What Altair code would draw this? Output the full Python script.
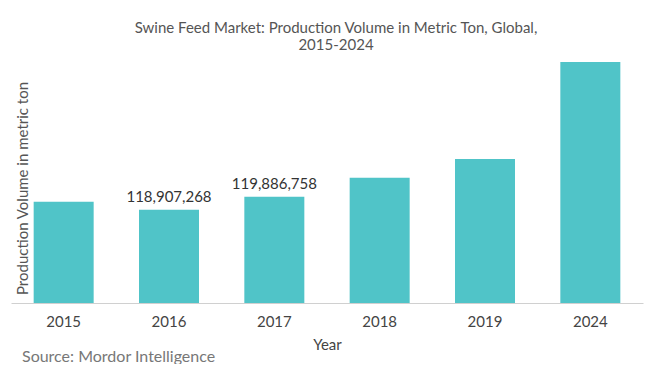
import altair as alt
import pandas as pd

years = ["2015", "2016", "2017", "2018", "2019", "2024"]
volumes = [119510000, 118907268, 119886758, 121320000, 122750000, 130060000]
labels = ["", "118,907,268", "119,886,758", "", "", ""]
y_min = 111880000
source_text = ["Source: Mordor Intelligence"]

df = pd.DataFrame({"Year": years, "Volume": volumes, "Label": labels, "Base": [y_min] * len(years)})
src = pd.DataFrame({"t": source_text})

FONT = "Lato"
BAR = "#50C4C8"

base = alt.Chart(df)

bars = base.mark_bar(color=BAR, size=60).encode(
    x=alt.X("Year:N", sort=years,
            axis=alt.Axis(title="Year", labelAngle=0, ticks=False, domainColor="#d0d0d0",
                          labelFontSize=15, labelColor="#444444", labelFont=FONT,
                          labelPadding=11, titleFont=FONT, titleFontSize=15,
                          titleFontWeight="normal", titleColor="#444444", titlePadding=8),
            scale=alt.Scale(paddingInner=0.43, paddingOuter=0.215)),
    y=alt.Y("Volume:Q",
            scale=alt.Scale(domain=[y_min, max(volumes)], nice=False, zero=False),
            axis=alt.Axis(title="Production Volume in metric ton", labels=False, ticks=False,
                          domain=False, grid=False, titleFont=FONT, titleFontSize=15,
                          titleFontWeight="normal", titleColor="#555555",
                          titleX=16, titleY=126, titleAngle=-90, titleAlign="center",
                          titleBaseline="alphabetic")),
    y2="Base:Q",
)

text = base.mark_text(dy=-8, baseline="alphabetic", font=FONT, fontSize=15, color="#333333").encode(
    x=alt.X("Year:N", sort=years),
    y="Volume:Q",
    text="Label:N",
)

source = alt.Chart(src).mark_text(align="left", baseline="alphabetic", font=FONT,
                                  fontSize=16, color="#777777").encode(
    x=alt.value(11), y=alt.value(300), text="t:N"
)

chart = alt.layer(bars, text, source).properties(
    width=632,
    height=241,
    autosize=alt.AutoSizeParams(type="none"),
    padding={"left": 3, "top": 54, "right": 13, "bottom": 61},
    title=alt.Title(
        ["Swine Feed Market: Production Volume in Metric Ton, Global,", "2015-2024"],
        font=FONT, fontSize=15, fontWeight="normal", color="#555555",
        anchor="middle", offset=-11, lineHeight=17, dx=9,
    ),
).configure_view(stroke=None)

chart.save("out.html", embed_options={"renderer": "svg", "actions": False})
